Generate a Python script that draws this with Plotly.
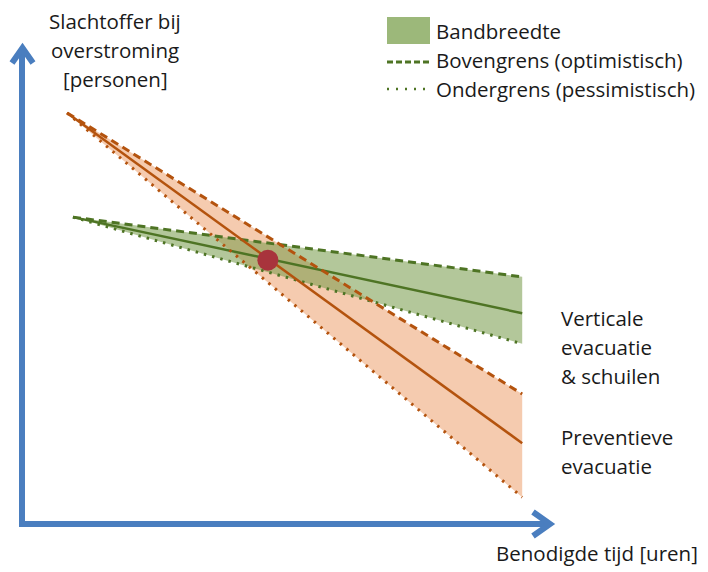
import plotly.graph_objects as go

# ---- data (conceptual units: time 0-100, casualties 0-100) ----
time_pts = [8.5, 94.2]                 # orange (preventieve evacuatie) x
prev_upper = [86.0, 27.2]              # bovengrens (optimistisch)
prev_mid = [86.0, 16.9]
prev_lower = [86.0, 5.6]               # ondergrens (pessimistisch)

time_pts_v = [9.6, 94.2]               # green (verticale evacuatie) x
vert_upper = [64.2, 51.7]
vert_mid = [64.2, 44.1]
vert_lower = [64.2, 37.7]

cross_t = [46.3]
cross_p = [55.2]

y_title = ["Slachtoffer bij", "overstroming", "[personen]"]
x_title = "Benodigde tijd [uren]"
label_vert = ["Verticale", "evacuatie", "& schuilen"]
label_prev = ["Preventieve", "evacuatie"]
legend_labels = ["Bandbreedte", "Bovengrens (optimistisch)", "Ondergrens (pessimistisch)"]

# page has an 8px body margin; the figure fills the rest
OFF = 8
W, H = 708 - OFF, 572 - OFF
XR = [(OFF - 22) / 5.31, (708 - 22) / 5.31]
YR = [(524 - 572) / 4.78, (524 - OFF) / 4.78]

ORANGE = "#B4530E"
ORANGE_FILL = "rgba(232,140,78,0.45)"
GREEN = "#4E7424"
GREEN_FILL = "rgba(120,155,75,0.56)"
BLUE = "#4A7EBF"
FONT = "Open Sans"

fig = go.Figure()

# bands
fig.add_trace(go.Scatter(x=time_pts + time_pts[::-1], y=prev_upper + prev_lower[::-1],
                         fill="toself", fillcolor=ORANGE_FILL, line=dict(width=0),
                         mode="lines", hoverinfo="skip", showlegend=False))
fig.add_trace(go.Scatter(x=time_pts_v + time_pts_v[::-1], y=vert_upper + vert_lower[::-1],
                         fill="toself", fillcolor=GREEN_FILL, line=dict(width=0),
                         mode="lines", hoverinfo="skip", showlegend=False))

# lines
for xs, ys, col, dash, w in [
    (time_pts_v, vert_upper, GREEN, "8px,5px", 3),
    (time_pts_v, vert_lower, GREEN, "2.5px,6px", 3),
    (time_pts_v, vert_mid, GREEN, "solid", 2.5),
    (time_pts, prev_upper, ORANGE, "8px,5px", 3),
    (time_pts, prev_lower, ORANGE, "2.5px,6px", 3),
    (time_pts, prev_mid, ORANGE, "solid", 2.5),
]:
    fig.add_trace(go.Scatter(x=xs, y=ys, mode="lines",
                             line=dict(color=col, dash=dash, width=w),
                             hoverinfo="skip", showlegend=False))

fig.add_trace(go.Scatter(x=cross_t, y=cross_p, mode="markers",
                         marker=dict(size=21, color="#A8343C"),
                         hoverinfo="skip", showlegend=False))


def px(x):
    return (x - OFF) / W


def py(y):
    return 1 - (y - OFF) / H


shapes = []
ax_line = dict(color=BLUE, width=6)
shapes.append(dict(type="line", xref="paper", yref="paper", x0=px(22), y0=py(527), x1=px(22), y1=py(49), line=ax_line))
shapes.append(dict(type="line", xref="paper", yref="paper", x0=px(19), y0=py(524), x1=px(550), y1=py(524), line=ax_line))
shapes.append(dict(type="path", xref="paper", yref="paper",
                   path=f"M {px(12)},{py(63)} L {px(22.5)},{py(48)} L {px(33)},{py(63)}", line=ax_line))
shapes.append(dict(type="path", xref="paper", yref="paper",
                   path=f"M {px(533)},{py(512)} L {px(550)},{py(524)} L {px(533)},{py(536)}", line=ax_line))

# legend
shapes.append(dict(type="rect", xref="paper", yref="paper", x0=px(387), x1=px(430), y0=py(44), y1=py(17),
                   fillcolor="#9CB87A", line=dict(width=0)))
shapes.append(dict(type="line", xref="paper", yref="paper", x0=px(387), x1=px(432), y0=py(62), y1=py(62),
                   line=dict(color=GREEN, width=3, dash="6px,3px")))
shapes.append(dict(type="line", xref="paper", yref="paper", x0=px(387), x1=px(432), y0=py(89), y1=py(89),
                   line=dict(color=GREEN, width=2.5, dash="2px,7px")))

ann = []
tf = dict(family=FONT, size=20.5, color="#1a1a1a")


def text(x, y, s, anchor="left"):
    ann.append(dict(xref="paper", yref="paper", x=px(x), y=py(y), text=s, showarrow=False,
                    xanchor=anchor, yanchor="middle", font=tf, borderpad=0))


for i, s in enumerate(y_title):
    text(115, 21 + i * 29, s, "center")
for i, s in enumerate(legend_labels):
    text(435, 31 + i * 29, s)
for i, s in enumerate(label_vert):
    text(560, 318 + i * 29, s)
for i, s in enumerate(label_prev):
    text(560, 437 + i * 29, s)
text(699, 553, x_title, "right")

fig.update_layout(
    width=W, height=H, margin=dict(l=0, r=0, t=0, b=0),
    paper_bgcolor="white", plot_bgcolor="white",
    xaxis=dict(range=XR, visible=False, fixedrange=True),
    yaxis=dict(range=YR, visible=False, fixedrange=True),
    shapes=shapes, annotations=ann, showlegend=False,
)

fig.write_html("out.html")
